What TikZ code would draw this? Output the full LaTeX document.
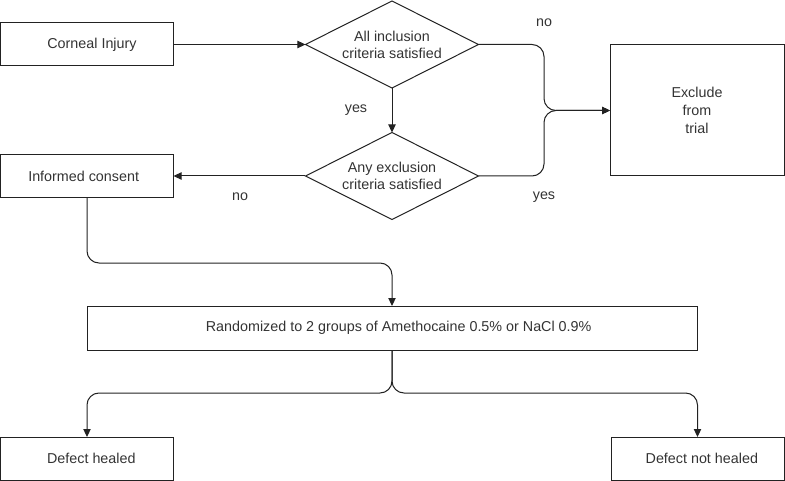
\documentclass[tikz,border=0pt]{standalone}
\usepackage{fontspec}
\setmainfont{Liberation Sans}
\usetikzlibrary{shapes.geometric,arrows.meta}
\definecolor{ln}{HTML}{222222}
\definecolor{tx}{HTML}{333333}
\begin{document}
\begin{tikzpicture}[x=0.75pt,y=-0.75pt,
  every node/.style={text=tx,font=\fontsize{10.75}{12.75}\selectfont},
  box/.style={draw=ln,line width=0.75pt,inner sep=0pt,outer sep=0pt,
    minimum width=129.75pt,minimum height=32.25pt,align=center},
  dia/.style={draw=ln,line width=0.75pt,diamond,aspect=2,inner sep=0pt,outer sep=0pt,
    minimum width=129.75pt,minimum height=65.25pt,align=center},
  conn/.style={draw=ln,line width=0.75pt,rounded corners=9pt,
    -{Triangle[length=6pt,width=5.5pt]}},
  lbl/.style={font=\fontsize{10.75}{12.75}\selectfont}]
\useasboundingbox (0,0) rectangle (785,481);
% nodes
\node[box] (ci) at (87,44.5) {\hspace*{7.5pt}Corneal Injury};
\node[box] (ic) at (87,176) {Informed consent\hspace*{5pt}};
\node[dia] (d1) at (392,44.5) {All inclusion\\criteria satisfied};
\node[dia] (d2) at (392,176) {Any exclusion\\criteria satisfied};
\node[box,minimum width=130.5pt,minimum height=98.25pt,
  font=\fontsize{10.75}{13.5}\selectfont] (ex) at (697,110.5) {Exclude\\from\\trial};
\node[box,minimum width=457.5pt,minimum height=33pt] (rd) at (392,328)
  {\hspace*{10pt}Randomized to 2 groups of Amethocaine 0.5\% or NaCl 0.9\%};
\node[box] (dh) at (87,458.5) {\hspace*{6.5pt}Defect healed};
\node[box] (dn) at (697.5,458.5) {\hspace*{6.5pt}Defect not healed};
% junction coordinates
\coordinate (jx) at (544,110.5);
\coordinate (jr) at (392,263);
\coordinate (jd) at (392,393);
% connectors
\draw[conn] (ci) -- (d1);
\draw[conn] (d1) -- (d2);
\draw[conn] (d2) -- (ic);
\draw[conn] (d1.east) -| (jx) -- (ex.west);
\draw[conn] (d2.east) -| (jx) -- (ex.west);
\draw[conn] (ic.south) |- (jr) -- (rd.north);
\draw[conn] (rd.south) -- (jd) -| (dh.north);
\draw[conn] (rd.south) -- (jd) -| (dn.north);
% labels
\node[lbl] (yes1) at (356,110) {yes};
\node[lbl] (no1) at (240,197) {no};
\node[lbl] (no2) at (544,23) {no};
\node[lbl] (yes2) at (544,197) {yes};
\end{tikzpicture}
\end{document}
